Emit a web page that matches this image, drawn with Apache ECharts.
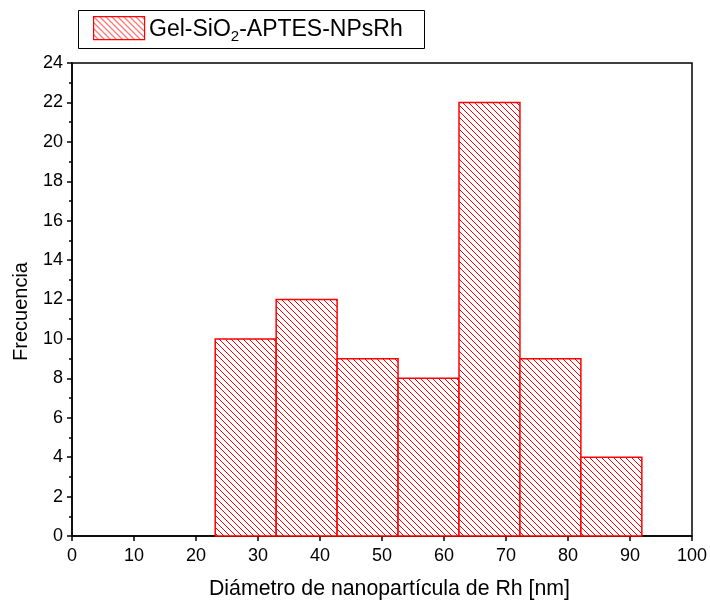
<!DOCTYPE html>
<html>
<head>
<meta charset="utf-8">
<script src="https://cdn.jsdelivr.net/npm/echarts@6/dist/echarts.min.js"></script>
<style>html,body{margin:0;padding:0;background:#fff}#c{width:710px;height:600px}</style>
</head>
<body>
<div id="c"></div>
<script>
var binEdges = [23.1, 32.93, 42.76, 52.59, 62.42, 72.25, 82.08, 91.91];
var counts = [10, 12, 9, 8, 22, 9, 4];
var seriesName = 'Gel-SiO₂-APTES-NPsRh';
var xTitle = 'Diámetro de nanopartícula de Rh [nm]';
var yTitle = 'Frecuencia';

function makeHatch() {
  var s = 6;
  var cv = document.createElement('canvas');
  cv.width = s; cv.height = s;
  var ctx = cv.getContext('2d');
  ctx.fillStyle = '#fff';
  ctx.fillRect(0, 0, s, s);
  ctx.strokeStyle = '#ff0000';
  ctx.lineWidth = 1;
  for (var k = -1; k <= 1; k++) {
    ctx.beginPath();
    ctx.moveTo(k * s, 0);
    ctx.lineTo(k * s + s, s);
    ctx.stroke();
  }
  return cv;
}
var hatch = makeHatch();

var data = counts.map(function (v, i) { return [binEdges[i], binEdges[i + 1], v]; });

var chart = echarts.init(document.getElementById('c'));
var font = 'Liberation Sans, Arial, sans-serif';
chart.setOption({
  animation: false,
  textStyle: { fontFamily: font },
  grid: { left: 72, right: 18, top: 63, bottom: 64, containLabel: false, outerBoundsMode: 'none', show: true, borderColor: '#000', borderWidth: 1.5, backgroundColor: 'transparent' },
  xAxis: {
    type: 'value', min: 0, max: 100, interval: 10,
    name: xTitle, nameLocation: 'middle', nameGap: 43,
    nameTextStyle: { fontSize: 21.3, color: '#000', fontFamily: font, padding: [0, 0, 0, 15] },
    axisLine: { lineStyle: { color: '#000', width: 1.5 } },
    axisTick: { length: 5, lineStyle: { color: '#000', width: 1.5 } },
    axisLabel: { fontSize: 18, color: '#000', margin: 11, fontFamily: font },
    splitLine: { show: false }
  },
  yAxis: {
    type: 'value', min: 0, max: 24, interval: 2,
    name: yTitle, nameLocation: 'middle', nameGap: 41, nameRotate: 90,
    nameTextStyle: { fontSize: 20, color: '#000', fontFamily: font, padding: [0, 24, 0, 0] },
    axisLine: { show: true, lineStyle: { color: '#000', width: 1.5 } },
    axisTick: { show: true, length: 5, lineStyle: { color: '#000', width: 1.5 } },
    minorTick: { show: true, splitNumber: 2, length: 3, lineStyle: { color: '#000', width: 1.5 } },
    axisLabel: { fontSize: 18, color: '#000', margin: 9, fontFamily: font },
    splitLine: { show: false }
  },
  series: [{
    type: 'custom',
    name: seriesName,
    data: data,
    encode: { x: [0, 1], y: 2 },
    renderItem: function (params, api) {
      var p0 = api.coord([api.value(0), api.value(2)]);
      var p1 = api.coord([api.value(1), 0]);
      return {
        type: 'rect',
        shape: { x: p0[0], y: p0[1], width: p1[0] - p0[0], height: p1[1] - p0[1] },
        style: { fill: { image: hatch, repeat: 'repeat' }, stroke: '#ff0000', lineWidth: 1.5 }
      };
    }
  }],
  graphic: [
    { type: 'rect', left: 78, top: 10, shape: { width: 346, height: 38 }, style: { fill: '#fff', stroke: '#000', lineWidth: 1 }, z: 10 },
    { type: 'rect', left: 93, top: 16, shape: { width: 51, height: 23 }, style: { fill: { image: hatch, repeat: 'repeat' }, stroke: '#ff0000', lineWidth: 1.2 }, z: 11 },
    { type: 'text', left: 149, top: 18, z: 11, style: {
      text: 'Gel-SiO{s|2}-APTES-NPsRh',
      font: '23px ' + font, fill: '#000',
      rich: { s: { fontSize: 15, fontFamily: font, fill: '#000', padding: [14, 0, 0, 0] } }
    } }
  ]
});
</script>
</body>
</html>
